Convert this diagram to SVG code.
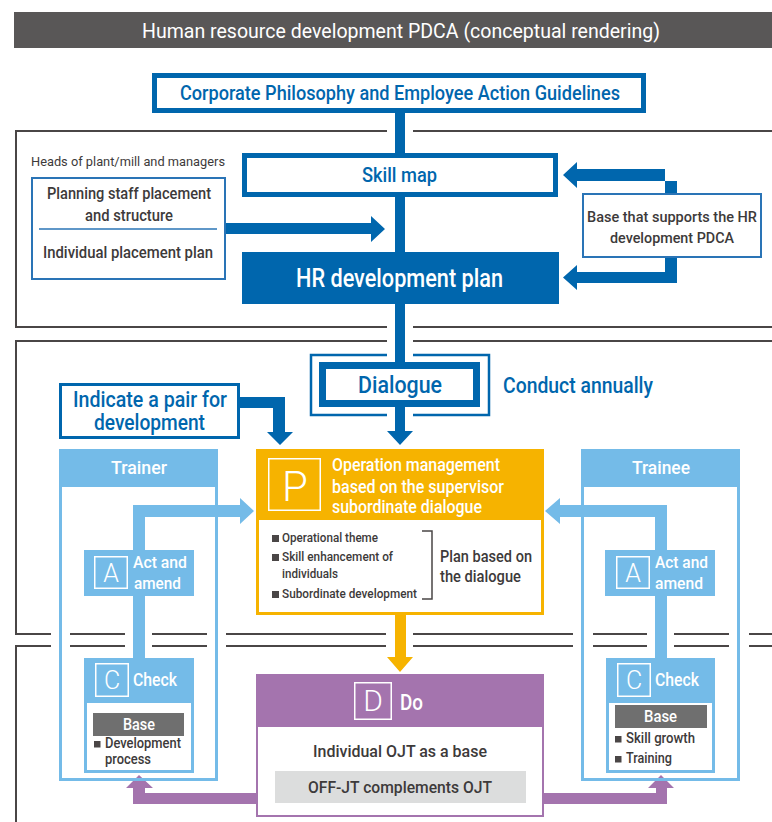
<svg xmlns="http://www.w3.org/2000/svg" width="772" height="822" viewBox="0 0 772 822">
<style>
text{font-family:Roboto,"Liberation Sans",sans-serif;}
.w{fill:#fff}
.b{fill:#0066ad;font-weight:500}
.g{fill:#3d3a3a}
.frame{stroke:#4a4646;stroke-width:2;fill:none}
.db{fill:#0066ad}
.lb{fill:#74bbe8}
.yl{fill:#f6b300}
.pu{fill:#a474ae}
.ltr{fill:#fff;font-weight:300}
</style>
<rect width="772" height="822" fill="#fff"/>
<g id="title">
<rect x="14" y="12" width="758" height="36" fill="#595757"/>
<text x="142" y="38" font-size="21" class="w" textLength="518" lengthAdjust="spacingAndGlyphs">Human resource development PDCA (conceptual rendering)</text>
</g>
<g id="frames" class="frame">
<path d="M387 131 H16 V327 H387 M413 131 H772 M413 327 H772"/>
<path d="M387 341 H16 V634 H51 M70 634 H125 M152 634 H207 M226 634 H386 M413 634 H573 M593 634 H647 M674 634 H729 M749 634 H772 M413 341 H772"/>
<path d="M16 822 V646 H51 M70 646 H125 M152 646 H207 M226 646 H386 M413 646 H573 M593 646 H647 M674 646 H729 M749 646 H772"/>
</g>
<g id="connectors">
<rect class="db" x="395" y="112" width="10" height="252"/>
<path class="db" d="M226 223 H371 V216 L385 229 L371 242 V234 H226 Z"/>
<path class="db" d="M665 193 V169 H577 V162 L563 175 L577 188 V181 H677 V193 Z"/>
<path class="db" d="M665 258 V272 H577 V265 L563 277.5 L577 290 V283 H677 V258 Z"/>
<path class="db" d="M395 405 H405 V431 H413 L400 445 L387 431 H395 Z"/>
<path class="db" d="M240 397 H285 V432 H293 L280 445 L267 432 H273 V408 H240 Z"/>
<path class="yl" d="M395 614 H406 V657 H413 L400 672 L387 657 H395 Z"/>
<path class="pu" d="M257 793 H145 V788 H153 L139 775 L126 788 H133 V804 H257 Z"/>
<path class="pu" d="M543 793 H656 V788 H648 L661 775 L674 788 H667 V804 H543 Z"/>
</g>
<g id="corporate">
<rect x="154.5" y="75.5" width="489" height="35" fill="#fff" stroke="#0066ad" stroke-width="5"/>
<text x="180" y="100" font-size="20" class="b" textLength="440" lengthAdjust="spacingAndGlyphs">Corporate Philosophy and Employee Action Guidelines</text>
</g>
<g id="skillmap">
<rect x="244.5" y="155.5" width="311" height="39" fill="#fff" stroke="#0066ad" stroke-width="5"/>
<text x="362" y="182" font-size="20" class="b" textLength="75" lengthAdjust="spacingAndGlyphs">Skill map</text>
</g>
<g id="hrplan">
<rect x="242" y="252" width="317" height="52" class="db"/>
<text x="296" y="287" font-size="25" class="w" font-weight="500" textLength="207" lengthAdjust="spacingAndGlyphs">HR development plan</text>
</g>
<g id="heads">
<text x="31" y="166" font-size="13.5" class="g" textLength="194" lengthAdjust="spacingAndGlyphs">Heads of plant/mill and managers</text>
</g>
<g id="planning">
<rect x="32" y="178" width="193" height="101" fill="#fff" stroke="#2a74b6" stroke-width="2"/>
<line x1="39" y1="229" x2="217" y2="229" stroke="#2a74b6" stroke-width="1.6"/>
<text x="47" y="199" font-size="16" class="g" font-weight="500" textLength="164" lengthAdjust="spacingAndGlyphs">Planning staff placement</text>
<text x="85" y="221" font-size="16" class="g" font-weight="500" textLength="88" lengthAdjust="spacingAndGlyphs">and structure</text>
<text x="43" y="258" font-size="16" class="g" font-weight="500" textLength="170" lengthAdjust="spacingAndGlyphs">Individual placement plan</text>
</g>
<g id="base">
<rect x="583" y="194" width="178" height="63" fill="#fff" stroke="#2a74b6" stroke-width="2"/>
<text x="587" y="222" font-size="15.5" class="g" font-weight="500" textLength="170" lengthAdjust="spacingAndGlyphs">Base that supports the HR</text>
<text x="610" y="243" font-size="15.5" class="g" font-weight="500" textLength="124" lengthAdjust="spacingAndGlyphs">development PDCA</text>
</g>
<g id="dialogue">
<path d="M387 355 H311 V415 H387 M413 355 H489 V415 H413" fill="none" stroke="#0066ad" stroke-width="2.5"/>
<rect x="322.5" y="365.5" width="154" height="38" fill="#fff" stroke="#0066ad" stroke-width="7"/>
<text x="358" y="393" font-size="23.5" class="b" textLength="84" lengthAdjust="spacingAndGlyphs">Dialogue</text>
</g>
<g id="annually">
<text x="503" y="393" font-size="21.5" class="b" textLength="150" lengthAdjust="spacingAndGlyphs">Conduct annually</text>
</g>
<g id="indicate">
<rect x="60.5" y="384.5" width="178" height="53" fill="#fff" stroke="#0066ad" stroke-width="3"/>
<text x="73" y="407" font-size="21.5" class="b" textLength="154" lengthAdjust="spacingAndGlyphs">Indicate a pair for</text>
<text x="94" y="430" font-size="21.5" class="b" textLength="111" lengthAdjust="spacingAndGlyphs">development</text>
</g>
<g id="trainer">
<rect x="60.5" y="450.5" width="156" height="329" fill="none" stroke="#74bbe8" stroke-width="3"/>
<rect x="59" y="449" width="159" height="38" class="lb"/>
<text x="111" y="474" font-size="19" class="w" font-weight="500" textLength="56" lengthAdjust="spacingAndGlyphs">Trainer</text>
</g>
<g id="trainee">
<rect x="582.5" y="450.5" width="156" height="329" fill="none" stroke="#74bbe8" stroke-width="3"/>
<rect x="581" y="449" width="159" height="38" class="lb"/>
<text x="632" y="474" font-size="19" class="w" font-weight="500" textLength="58" lengthAdjust="spacingAndGlyphs">Trainee</text>
</g>
<g id="connectors-light">
<path class="lb" d="M133 658 V505 H240 V498 L254 511 L240 524 V517 H145 V658 Z"/>
<path class="lb" d="M667 658 V505 H560 V498 L545 511 L560 524 V517 H655 V658 Z"/>
</g>
<g id="act-left">
<rect x="84" y="550" width="110" height="46" class="lb"/>
<rect x="94.75" y="556.75" width="32.5" height="31.5" fill="none" stroke="#fff" stroke-width="1.5"/>
<text x="111" y="582" font-size="25" class="ltr" text-anchor="middle">A</text>
<text x="133" y="568" font-size="17" class="w" font-weight="500" textLength="54" lengthAdjust="spacingAndGlyphs">Act and</text>
<text x="134" y="589" font-size="17" class="w" font-weight="500" textLength="47" lengthAdjust="spacingAndGlyphs">amend</text>
</g>
<g id="act-right">
<rect x="605" y="550" width="110" height="46" class="lb"/>
<rect x="616.75" y="556.75" width="32.5" height="31.5" fill="none" stroke="#fff" stroke-width="1.5"/>
<text x="633" y="582" font-size="25" class="ltr" text-anchor="middle">A</text>
<text x="655" y="568" font-size="17" class="w" font-weight="500" textLength="53" lengthAdjust="spacingAndGlyphs">Act and</text>
<text x="655" y="589" font-size="17" class="w" font-weight="500" textLength="48" lengthAdjust="spacingAndGlyphs">amend</text>
</g>
<g id="check-left">
<rect x="85.5" y="659.5" width="107" height="112" fill="#fff" stroke="#74bbe8" stroke-width="3"/>
<rect x="84" y="658" width="110" height="45" class="lb"/>
<rect x="95.75" y="663.75" width="32.5" height="32.5" fill="none" stroke="#fff" stroke-width="1.5"/>
<text x="112" y="689" font-size="25" class="ltr" text-anchor="middle">C</text>
<text x="133" y="686" font-size="18" class="w" font-weight="500" textLength="44" lengthAdjust="spacingAndGlyphs">Check</text>
<rect x="93" y="713" width="91" height="23" fill="#6f6f6f"/>
<text x="123" y="730" font-size="16" class="w" font-weight="500" textLength="32" lengthAdjust="spacingAndGlyphs">Base</text>
<rect x="94" y="741" width="6.5" height="6.5" fill="#4a4646"/>
<text x="105" y="748" font-size="14" class="g" font-weight="500" textLength="76" lengthAdjust="spacingAndGlyphs">Development</text>
<text x="105" y="764" font-size="14" class="g" font-weight="500" textLength="46" lengthAdjust="spacingAndGlyphs">process</text>
</g>
<g id="check-right">
<rect x="607.5" y="659.5" width="106" height="112" fill="#fff" stroke="#74bbe8" stroke-width="3"/>
<rect x="606" y="658" width="109" height="45" class="lb"/>
<rect x="617.75" y="663.75" width="32.5" height="32.5" fill="none" stroke="#fff" stroke-width="1.5"/>
<text x="634" y="689" font-size="25" class="ltr" text-anchor="middle">C</text>
<text x="655" y="686" font-size="18" class="w" font-weight="500" textLength="44" lengthAdjust="spacingAndGlyphs">Check</text>
<rect x="615" y="705" width="92" height="23" fill="#6f6f6f"/>
<text x="644" y="722" font-size="16" class="w" font-weight="500" textLength="33" lengthAdjust="spacingAndGlyphs">Base</text>
<rect x="615" y="736" width="6.5" height="6.5" fill="#4a4646"/>
<text x="626" y="743" font-size="14" class="g" font-weight="500" textLength="69" lengthAdjust="spacingAndGlyphs">Skill growth</text>
<rect x="615" y="756" width="6.5" height="6.5" fill="#4a4646"/>
<text x="626" y="763" font-size="14" class="g" font-weight="500" textLength="46" lengthAdjust="spacingAndGlyphs">Training</text>
</g>
<g id="plan-p">
<rect x="257.5" y="450.5" width="285" height="163" fill="#fff" stroke="#f6b300" stroke-width="3"/>
<rect x="256" y="449" width="288" height="71" class="yl"/>
<rect x="268.75" y="458.75" width="51.5" height="51.5" fill="none" stroke="#fff" stroke-width="1.5"/>
<text x="295" y="501" font-size="42" class="ltr" text-anchor="middle">P</text>
<text x="332" y="471" font-size="18" class="w" font-weight="500" textLength="168" lengthAdjust="spacingAndGlyphs">Operation management</text>
<text x="332" y="493" font-size="18" class="w" font-weight="500" textLength="172" lengthAdjust="spacingAndGlyphs">based on the supervisor</text>
<text x="332" y="513" font-size="18" class="w" font-weight="500" textLength="150" lengthAdjust="spacingAndGlyphs">subordinate dialogue</text>
<rect x="272" y="535" width="7" height="7" fill="#4a4646"/>
<text x="282" y="542" font-size="13.5" class="g" font-weight="500" textLength="96" lengthAdjust="spacingAndGlyphs">Operational theme</text>
<rect x="272" y="554" width="7" height="7" fill="#4a4646"/>
<text x="282" y="561" font-size="13.5" class="g" font-weight="500" textLength="111" lengthAdjust="spacingAndGlyphs">Skill enhancement of</text>
<text x="282" y="578" font-size="13.5" class="g" font-weight="500" textLength="56" lengthAdjust="spacingAndGlyphs">individuals</text>
<rect x="272" y="591" width="7" height="7" fill="#4a4646"/>
<text x="282" y="598" font-size="13.5" class="g" font-weight="500" textLength="135" lengthAdjust="spacingAndGlyphs">Subordinate development</text>
<path d="M422 531 H432 V599 H422" fill="none" stroke="#4a4646" stroke-width="1.5"/>
<text x="440" y="562" font-size="17" class="g" font-weight="500" textLength="92" lengthAdjust="spacingAndGlyphs">Plan based on</text>
<text x="440" y="582" font-size="17" class="g" font-weight="500" textLength="81" lengthAdjust="spacingAndGlyphs">the dialogue</text>
</g>
<g id="do-d">
<rect x="257" y="675" width="286" height="141" fill="#fff" stroke="#a474ae" stroke-width="2"/>
<rect x="256" y="674" width="288" height="53" class="pu"/>
<rect x="354.75" y="682.75" width="36.5" height="36.5" fill="none" stroke="#fff" stroke-width="1.5"/>
<text x="373" y="711" font-size="30" class="ltr" text-anchor="middle">D</text>
<text x="400" y="710" font-size="22" class="w" font-weight="500" textLength="23" lengthAdjust="spacingAndGlyphs">Do</text>
<text x="313" y="757" font-size="17" class="g" font-weight="500" textLength="174" lengthAdjust="spacingAndGlyphs">Individual OJT as a base</text>
<rect x="275" y="771" width="251" height="32" fill="#dcdddd"/>
<text x="308" y="793" font-size="17" class="g" font-weight="500" textLength="184" lengthAdjust="spacingAndGlyphs">OFF-JT complements OJT</text>
</g>
</svg>
